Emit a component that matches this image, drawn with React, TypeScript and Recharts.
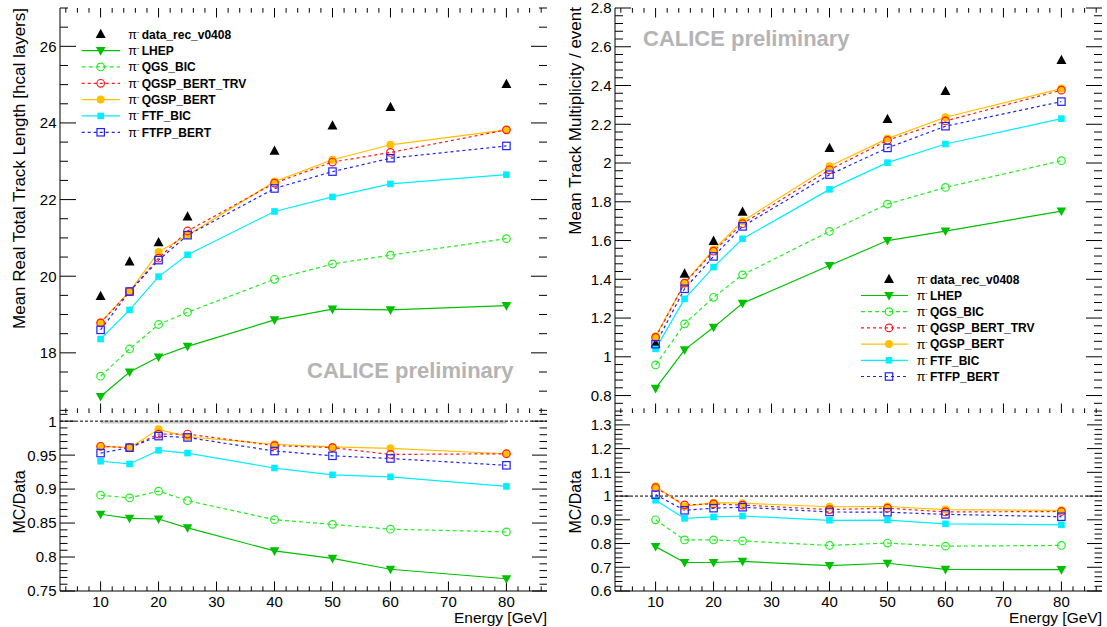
import React from 'react';
import { LineChart, Line, XAxis, YAxis, ReferenceLine, ReferenceArea, Legend } from 'recharts';

// ---------------- data ----------------
const energies = [10, 15, 20, 25, 40, 50, 60, 80];

// Mean real total track length [hcal layers]
const lenData = [19.48, 20.38, 20.88, 21.55, 23.27, 23.93, 24.41, 25.01];
const lenLHEP = [16.86, 17.5, 17.89, 18.17, 18.86, 19.14, 19.12, 19.23];
const lenQGSBIC = [17.39, 18.1, 18.74, 19.06, 19.92, 20.32, 20.55, 20.98];
const lenTRV = [18.78, 19.6, 20.47, 21.18, 22.43, 22.98, 23.23, 23.82];
const lenQGSPBERT = [18.8, 19.6, 20.63, 21.07, 22.47, 23.04, 23.43, 23.82];
const lenFTFBIC = [18.36, 19.12, 19.99, 20.56, 21.69, 22.07, 22.41, 22.65];
const lenFTFPBERT = [18.6, 19.6, 20.42, 21.07, 22.29, 22.73, 23.08, 23.4];

// MC/Data for track length
const rlLHEP = [0.863, 0.857, 0.856, 0.843, 0.809, 0.798, 0.782, 0.768];
const rlQGSBIC = [0.891, 0.887, 0.897, 0.883, 0.855, 0.848, 0.841, 0.837];
const rlTRV = [0.963, 0.961, 0.981, 0.981, 0.964, 0.961, 0.951, 0.952];
const rlQGSPBERT = [0.963, 0.961, 0.988, 0.977, 0.966, 0.962, 0.96, 0.952];
const rlFTFBIC = [0.941, 0.937, 0.957, 0.953, 0.931, 0.921, 0.918, 0.904];
const rlFTFPBERT = [0.953, 0.961, 0.978, 0.976, 0.956, 0.949, 0.945, 0.935];

// Mean track multiplicity / event
const mulData = [1.068, 1.428, 1.597, 1.747, 2.076, 2.226, 2.371, 2.531];
const mulLHEP = [0.837, 1.036, 1.152, 1.276, 1.471, 1.6, 1.649, 1.752];
const mulQGSBIC = [0.958, 1.17, 1.307, 1.423, 1.647, 1.788, 1.874, 2.012];
const mulTRV = [1.1, 1.38, 1.545, 1.687, 1.965, 2.117, 2.217, 2.376];
const mulQGSPBERT = [1.106, 1.38, 1.554, 1.7, 1.983, 2.126, 2.236, 2.384];
const mulFTFBIC = [1.041, 1.299, 1.463, 1.609, 1.864, 2.002, 2.098, 2.229];
const mulFTFPBERT = [1.065, 1.351, 1.518, 1.673, 1.94, 2.078, 2.19, 2.317];

// MC/Data for multiplicity
const rmLHEP = [0.787, 0.72, 0.72, 0.725, 0.707, 0.717, 0.691, 0.69];
const rmQGSBIC = [0.9, 0.815, 0.815, 0.811, 0.792, 0.802, 0.789, 0.792];
const rmTRV = [1.035, 0.963, 0.967, 0.962, 0.943, 0.949, 0.933, 0.935];
const rmQGSPBERT = [1.041, 0.957, 0.972, 0.97, 0.955, 0.956, 0.943, 0.94];
const rmFTFBIC = [0.982, 0.906, 0.912, 0.916, 0.898, 0.899, 0.883, 0.879];
const rmFTFPBERT = [1.006, 0.94, 0.949, 0.953, 0.933, 0.932, 0.923, 0.913];

// ticks
const X_MAJOR = [10, 20, 30, 40, 50, 60, 70, 80];
const Y_LEN_MAJOR = [18, 20, 22, 24, 26];
const Y_RL_MAJOR = [0.75, 0.8, 0.85, 0.9, 0.95, 1];
const Y_MUL_MAJOR = [0.8, 1, 1.2, 1.4, 1.6, 1.8, 2, 2.2, 2.4, 2.6, 2.8];
const Y_RM_MAJOR = [0.6, 0.7, 0.8, 0.9, 1, 1.1, 1.2, 1.3];

const X_DOMAIN: [number, number] = [3, 87];

const FONT = '"Liberation Sans", Arial, Helvetica, sans-serif';

function minors(lo: number, hi: number, step: number, majors: number[]) {
  const out: number[] = [];
  const n = Math.round((hi - lo) / step);
  for (let i = 0; i <= n; i++) {
    const v = Math.round((lo + i * step) * 10000) / 10000;
    if (!majors.some((m) => Math.abs(m - v) < 1e-6)) out.push(v);
  }
  return out;
}

const X_MINOR = minors(4, 86, 2, X_MAJOR);

type Shape = 'triUp' | 'triDown' | 'circleOpen' | 'circleFilled' | 'squareFilled' | 'squareOpen';

const SERIES: { key: string; name: string; color: string; shape: Shape; dash?: string }[] = [
  { key: 'lhep', name: 'LHEP', color: '#00c000', shape: 'triDown' },
  { key: 'qgsbic', name: 'QGS_BIC', color: '#22ee22', shape: 'circleOpen', dash: '4 3' },
  { key: 'trv', name: 'QGSP_BERT_TRV', color: '#ff1a1a', shape: 'circleOpen', dash: '3 3' },
  { key: 'qgspbert', name: 'QGSP_BERT', color: '#ffc000', shape: 'circleFilled' },
  { key: 'ftfbic', name: 'FTF_BIC', color: '#00eeff', shape: 'squareFilled' },
  { key: 'ftfpbert', name: 'FTFP_BERT', color: '#2020ff', shape: 'squareOpen', dash: '3 3' },
];
const DRAW_ORDER = ['lhep', 'qgsbic', 'qgspbert', 'trv', 'ftfbic', 'ftfpbert'];

function buildRows(d: number[] | null, l: number[], q: number[], t: number[], b: number[], f: number[], fp: number[]) {
  return energies.map((e, i) => ({
    e,
    data: d ? d[i] : undefined,
    lhep: l[i],
    qgsbic: q[i],
    trv: t[i],
    qgspbert: b[i],
    ftfbic: f[i],
    ftfpbert: fp[i],
  }));
}

const rowsLen = buildRows(lenData, lenLHEP, lenQGSBIC, lenTRV, lenQGSPBERT, lenFTFBIC, lenFTFPBERT);
const rowsRL = buildRows(null, rlLHEP, rlQGSBIC, rlTRV, rlQGSPBERT, rlFTFBIC, rlFTFPBERT);
const rowsMul = buildRows(mulData, mulLHEP, mulQGSBIC, mulTRV, mulQGSPBERT, mulFTFBIC, mulFTFPBERT);
const rowsRM = buildRows(null, rmLHEP, rmQGSBIC, rmTRV, rmQGSPBERT, rmFTFBIC, rmFTFPBERT);

// ---------------- markers ----------------
function Marker({ cx, cy, shape, color }: { cx: number; cy: number; shape: Shape; color: string }) {
  if (cx == null || cy == null || isNaN(cx) || isNaN(cy)) return <g />;
  switch (shape) {
    case 'triUp':
      return <polygon points={`${cx},${cy - 5.5} ${cx - 5},${cy + 3.8} ${cx + 5},${cy + 3.8}`} fill={color} />;
    case 'triDown':
      return <polygon points={`${cx - 4.8},${cy - 3.6} ${cx + 4.8},${cy - 3.6} ${cx},${cy + 5}`} fill={color} />;
    case 'circleOpen':
      return <circle cx={cx} cy={cy} r={3.8} fill="none" stroke={color} strokeWidth={1.2} />;
    case 'circleFilled':
      return <circle cx={cx} cy={cy} r={4} fill={color} />;
    case 'squareFilled':
      return <rect x={cx - 3.3} y={cy - 3.3} width={6.6} height={6.6} fill={color} />;
    case 'squareOpen':
      return <rect x={cx - 3.7} y={cy - 3.7} width={7.4} height={7.4} fill="none" stroke={color} strokeWidth={1.2} />;
  }
  return <g />;
}

const dotFn = (shape: Shape, color: string) => (p: any) => (
  <Marker key={`m-${p.index}`} cx={p.cx} cy={p.cy} shape={shape} color={color} />
);

// ---------------- tick labels ----------------
const isMajor = (v: number, majors: number[]) => majors.some((m) => Math.abs(m - v) < 1e-6);

const yLabel = (majors: number[]) => (props: any) => {
  const { x, y, payload } = props;
  const v = payload.value as number;
  if (!isMajor(v, majors)) return <g />;
  return (
    <text x={x - 3.5} y={y} dy="0.36em" textAnchor="end" fontSize={15} fontFamily={FONT} fill="#000">
      {String(v)}
    </text>
  );
};

const xLabel = (props: any) => {
  const { x, y, payload } = props;
  const v = payload.value as number;
  if (!isMajor(v, X_MAJOR)) return <g />;
  return (
    <text x={x} y={y + 10.5} dy="0.36em" textAnchor="middle" fontSize={15} fontFamily={FONT} fill="#000">
      {String(v)}
    </text>
  );
};

// ---------------- legend ----------------
const LEGEND_ROWS: { name: string; color: string; shape: Shape; line: boolean; dash?: string }[] = [
  { name: 'data_rec_v0408', color: '#000', shape: 'triUp', line: false },
  ...SERIES.map((s) => ({ name: s.name, color: s.color, shape: s.shape, line: true, dash: s.dash })),
];

function LegendSvg({ y0, dy, lx1, lx2, mx, px, tx }: { y0: number; dy: number; lx1: number; lx2: number; mx: number; px: number; tx: number }) {
  return (
    <svg width={240} height={130} style={{ overflow: 'visible', display: 'block' }}>
      {LEGEND_ROWS.map((r, i) => {
        const y = y0 + i * dy;
        return (
          <g key={r.name}>
            {r.line && <line x1={lx1} x2={lx2} y1={y} y2={y} stroke={r.color} strokeWidth={1.2} strokeDasharray={r.dash} />}
            <Marker cx={mx} cy={y} shape={r.shape} color={r.color} />
            <text x={px} y={y} dy="0.36em" fontSize={12.5} fontFamily={FONT} fill="#000">
              π<tspan fontSize={7} dy={-5}>-</tspan>
            </text>
            <text x={tx} y={y} dy="0.36em" fontSize={12} fontWeight="bold" fontFamily={FONT} fill="#000">
              {r.name}
            </text>
          </g>
        );
      })}
    </svg>
  );
}

// ---------------- pad ----------------
type PadProps = {
  left: number;
  top: number;
  width: number;
  height: number;
  margin: { top: number; right: number; bottom: number; left: number };
  rows: any[];
  yDomain: [number, number];
  yMajors: number[];
  yMinorStep: number;
  yMinorLo: number;
  yMinorHi: number;
  yMajLen: number;
  yMinLen: number;
  xLabels: boolean;
  topTicks: boolean;
  withData: boolean;
  refOne: boolean;
  band: boolean;
  legend?: React.ReactNode;
};

function Pad(p: PadProps) {
  const yTicks = [...p.yMajors, ...minors(p.yMinorLo, p.yMinorHi, p.yMinorStep, p.yMajors)].sort((a, b) => a - b);
  const xTicks = [...X_MAJOR, ...X_MINOR].sort((a, b) => a - b);

  // tick marks drawn inside the frame (ROOT style), lengths given in pixels and
  // converted to data units of this pad
  const plotW = p.width - p.margin.left - p.margin.right - 60;
  const plotH = p.height - p.margin.top - p.margin.bottom - (p.xLabels ? 36 : 0);
  const ux = (X_DOMAIN[1] - X_DOMAIN[0]) / plotW;
  const uy = (p.yDomain[1] - p.yDomain[0]) / plotH;
  const segs: { x: number; y: number }[][] = [];
  yTicks.forEach((v) => {
    const len = (isMajor(v, p.yMajors) ? p.yMajLen : p.yMinLen) * ux;
    segs.push([{ x: X_DOMAIN[0], y: v }, { x: X_DOMAIN[0] + len, y: v }]);
    segs.push([{ x: X_DOMAIN[1] - len, y: v }, { x: X_DOMAIN[1], y: v }]);
  });
  xTicks.forEach((v) => {
    const len = (isMajor(v, X_MAJOR) ? 9.5 : 4.7) * uy;
    segs.push([{ x: v, y: p.yDomain[0] }, { x: v, y: p.yDomain[0] + len }]);
    if (p.topTicks) segs.push([{ x: v, y: p.yDomain[1] - len }, { x: v, y: p.yDomain[1] }]);
  });

  return (
    <div style={{ position: 'absolute', left: p.left, top: p.top, width: p.width, height: p.height }}>
      <LineChart width={p.width} height={p.height} data={p.rows} margin={p.margin}>
        <XAxis
          dataKey="e"
          type="number"
          domain={X_DOMAIN}
          allowDataOverflow
          ticks={xTicks}
          interval={0}
          tickLine={false}
          tickSize={0}
          tickMargin={0}
          axisLine={{ stroke: '#000', strokeWidth: 1 }}
          height={p.xLabels ? 36 : 0}
          tick={p.xLabels ? xLabel : false}
        />
        <XAxis
          xAxisId="top"
          orientation="top"
          dataKey="e"
          type="number"
          domain={X_DOMAIN}
          allowDataOverflow
          ticks={xTicks}
          interval={0}
          tickLine={false}
          tickSize={0}
          tickMargin={0}
          axisLine={{ stroke: '#000', strokeWidth: 1 }}
          height={0}
          tick={false}
        />
        <YAxis
          type="number"
          domain={p.yDomain}
          allowDataOverflow
          ticks={yTicks}
          interval={0}
          tickLine={false}
          tickSize={0}
          tickMargin={0}
          axisLine={{ stroke: '#000', strokeWidth: 1 }}
          width={60}
          tick={yLabel(p.yMajors)}
        />
        <YAxis
          yAxisId="right"
          orientation="right"
          type="number"
          domain={p.yDomain}
          allowDataOverflow
          ticks={yTicks}
          interval={0}
          tickLine={false}
          tickSize={0}
          tickMargin={0}
          axisLine={{ stroke: '#000', strokeWidth: 1 }}
          width={0}
          tick={false}
        />
        {segs.map((s, i) => (
          <ReferenceLine key={`tk-${i}`} segment={s} stroke="#000" strokeWidth={1} ifOverflow="visible" />
        ))}
        {p.band && (
          <ReferenceArea x1={10} x2={80} y1={0.9965} y2={1.0012} fill="#c8c8c8" fillOpacity={1} stroke="none" ifOverflow="hidden" />
        )}
        {p.refOne && <ReferenceLine y={1} stroke="#000" strokeWidth={1} strokeDasharray="3 2" />}
        {p.withData && (
          <Line
            dataKey="data"
            stroke="none"
            isAnimationActive={false}
            activeDot={false}
            dot={dotFn('triUp', '#000')}
          />
        )}
        {DRAW_ORDER.map((k) => {
          const s = SERIES.find((x) => x.key === k)!;
          return (
            <Line
              key={s.key}
              dataKey={s.key}
              type="linear"
              stroke={s.color}
              strokeWidth={1.2}
              strokeDasharray={s.dash}
              isAnimationActive={false}
              activeDot={false}
              dot={dotFn(s.shape, s.color)}
            />
          );
        })}
        {p.legend}
      </LineChart>
    </div>
  );
}

export default function App() {
  const textStyle = { fontFamily: FONT, fill: '#000' } as const;
  return (
    <div style={{ position: 'absolute', left: 0, top: 0, width: 1107, height: 627, overflow: 'hidden', background: '#fff' }}>
      <Pad
        left={0}
        top={0}
        width={560}
        height={413}
        margin={{ top: 8, right: 13, bottom: 0, left: 0 }}
        rows={rowsLen}
        yDomain={[16.43, 27]}
        yMajors={Y_LEN_MAJOR}
        yMinorStep={0.5}
        yMinorLo={16.5}
        yMinorHi={27}
        yMajLen={16}
        yMinLen={8}
        xLabels={false}
        topTicks={true}
        withData={true}
        refOne={false}
        band={false}
        legend={
          <Legend
            layout="vertical"
            align="center"
            verticalAlign="middle"
            wrapperStyle={{ left: 75, top: 24, width: 240, height: 130 }}
            content={() => <LegendSvg y0={10.3} dy={16.33} lx1={6.7} lx2={45} mx={25.7} px={53.3} tx={66.7} />}
          />
        }
      />
      <Pad
        left={0}
        top={413}
        width={560}
        height={214}
        margin={{ top: 0, right: 13, bottom: 0, left: 0 }}
        rows={rowsRL}
        yDomain={[0.75, 1.012]}
        yMajors={Y_RL_MAJOR}
        yMinorStep={0.01}
        yMinorLo={0.75}
        yMinorHi={1.01}
        yMajLen={15}
        yMinLen={7.5}
        xLabels={true}
        topTicks={false}
        withData={false}
        refOne={true}
        band={true}
      />
      <Pad
        left={555}
        top={0}
        width={552}
        height={413}
        margin={{ top: 8, right: 5, bottom: 0, left: 0 }}
        rows={rowsMul}
        yDomain={[0.71, 2.8]}
        yMajors={Y_MUL_MAJOR}
        yMinorStep={0.04}
        yMinorLo={0.72}
        yMinorHi={2.8}
        yMajLen={16}
        yMinLen={8}
        xLabels={false}
        topTicks={true}
        withData={true}
        refOne={false}
        band={false}
        legend={
          <Legend
            layout="vertical"
            align="center"
            verticalAlign="middle"
            wrapperStyle={{ left: 301, top: 268, width: 240, height: 130 }}
            content={() => <LegendSvg y0={11.3} dy={16.2} lx1={5} lx2={52} mx={33} px={60.7} tx={74} />}
          />
        }
      />
      <Pad
        left={555}
        top={413}
        width={552}
        height={214}
        margin={{ top: 0, right: 5, bottom: 0, left: 0 }}
        rows={rowsRM}
        yDomain={[0.6, 1.35]}
        yMajors={Y_RM_MAJOR}
        yMinorStep={0.02}
        yMinorLo={0.6}
        yMinorHi={1.34}
        yMajLen={15}
        yMinLen={7.5}
        xLabels={true}
        topTicks={false}
        withData={false}
        refOne={true}
        band={false}
      />
      <svg width={1107} height={627} style={{ position: 'absolute', left: 0, top: 0, pointerEvents: 'none' }}>
        <text transform="translate(19,8) rotate(-90)" textAnchor="end" dy="0.36em" fontSize={17} {...textStyle}>
          Mean Real Total Track Length [hcal layers]
        </text>
        <text transform="translate(19,502) rotate(-90)" textAnchor="middle" dy="0.36em" fontSize={16} {...textStyle}>
          MC/Data
        </text>
        <text transform="translate(575,7) rotate(-90)" textAnchor="end" dy="0.36em" fontSize={17} {...textStyle}>
          Mean Track Multiplicity / event
        </text>
        <text transform="translate(575,502) rotate(-90)" textAnchor="middle" dy="0.36em" fontSize={16} {...textStyle}>
          MC/Data
        </text>
        <text x={547} y={617} dy="0.36em" textAnchor="end" fontSize={15.5} {...textStyle}>
          Energy [GeV]
        </text>
        <text x={1102} y={617} dy="0.36em" textAnchor="end" fontSize={15.5} {...textStyle}>
          Energy [GeV]
        </text>
        <text x={307} y={370} dy="0.36em" fontSize={22} fontWeight="bold" fontFamily={FONT} fill="#b4b4b4">
          CALICE preliminary
        </text>
        <text x={643} y={38} dy="0.36em" fontSize={22} fontWeight="bold" fontFamily={FONT} fill="#b4b4b4">
          CALICE preliminary
        </text>
      </svg>
    </div>
  );
}
